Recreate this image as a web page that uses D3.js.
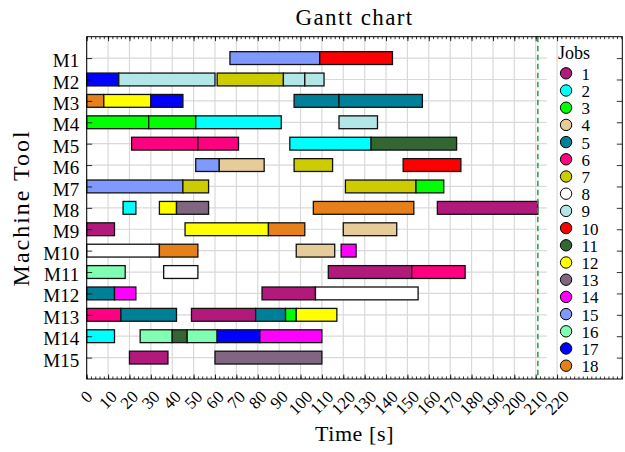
<!DOCTYPE html>
<html>
<head>
<meta charset="utf-8">
<script src="https://cdn.jsdelivr.net/npm/d3@7"></script>
<style>
body { margin: 0; background: #fff; }
text { font-family: "Liberation Serif", serif; fill: #000; }
</style>
</head>
<body>
<div id="chart"></div>
<script>
var svgWidth = 625;
var svgHeight = 452;

var margin = { top: 36.7, right: 2.7, bottom: 73, left: 86.7 };
var chartWidth = svgWidth - margin.left - margin.right;
var chartHeight = svgHeight - margin.top - margin.bottom;

// data: [job, start, end] per machine
var machines = ["M1", "M2", "M3", "M4", "M5", "M6", "M7", "M8", "M9", "M10", "M11", "M12", "M13", "M14", "M15"];
var jobs = [1, 2, 3, 4, 5, 6, 7, 8, 9, 10, 11, 12, 13, 14, 15, 16, 17, 18];
var jobColors = ["#b11a7b", "#00ffff", "#00ff00", "#e6cc99", "#007f99", "#ff0080", "#cccc00", "#ffffff", "#b3e6e6",
    "#ff0000", "#336633", "#ffff00", "#806680", "#ff00ff", "#8099ff", "#80ffb3", "#0000ff", "#e6801a"];

var m1 = [[15, 67, 109], [10, 109, 143]];
var m2 = [[17, 0, 15], [9, 15, 60], [7, 61, 92], [9, 92, 102], [9, 102, 111]];
var m3 = [[18, 0, 8], [12, 8, 30], [17, 30, 45], [5, 97, 118], [5, 118, 157]];
var m4 = [[3, 0, 29], [3, 29, 51], [2, 51, 91], [9, 118, 136]];
var m5 = [[6, 21, 52], [6, 52, 71], [2, 95, 133], [11, 133, 173]];
var m6 = [[15, 51, 62], [4, 62, 83], [7, 97, 115], [10, 148, 175]];
var m7 = [[15, 0, 45], [7, 45, 57], [7, 121, 154], [3, 154, 167]];
var m8 = [[2, 17, 23], [12, 34, 42], [13, 42, 57], [18, 106, 153], [1, 164, 211]];
var m9 = [[1, 0, 13], [12, 46, 85], [18, 85, 102], [4, 120, 145]];
var m10 = [[8, 0, 34], [18, 34, 52], [4, 98, 116], [14, 119, 126]];
var m11 = [[16, 0, 18], [8, 36, 52], [1, 113, 152], [6, 152, 177]];
var m12 = [[5, 0, 13], [14, 13, 23], [1, 82, 107], [8, 107, 155]];
var m13 = [[6, 0, 16], [5, 16, 42], [1, 49, 79], [5, 79, 93], [3, 93, 98], [12, 98, 117]];
var m14 = [[2, 0, 13], [16, 25, 40], [11, 40, 47], [16, 47, 61], [17, 61, 81], [14, 81, 110]];
var m15 = [[1, 20, 38], [13, 60, 110]];
var schedule = [m1, m2, m3, m4, m5, m6, m7, m8, m9, m10, m11, m12, m13, m14, m15];

var makespan = 211;
var xTicks = [0, 10, 20, 30, 40, 50, 60, 70, 80, 90, 100, 110, 120, 130, 140, 150, 160, 170, 180, 190, 200, 210, 220];

var ops = [];
schedule.forEach(function(list, i) {
    list.forEach(function(o) {
        ops.push({ machine: i + 1, job: o[0], start: o[1], end: o[2] });
    });
});

var svg = d3.select("#chart")
    .append("svg")
    .attr("width", svgWidth)
    .attr("height", svgHeight);

var chartGroup = svg.append("g")
    .attr("transform", `translate(${margin.left}, ${margin.top})`);

var xScale = d3.scaleLinear().domain([0, 250.5]).range([0, chartWidth]);
var yScale = d3.scaleLinear().domain([0, 16]).range([0, chartHeight]);
var color = d3.scaleOrdinal().domain(jobs).range(jobColors);

// legend sits over the right part, horizontal grid stops there
var legendLeft = xScale(215.3);

// GRID
chartGroup.append("g")
    .selectAll("line.vgrid")
    .data(xTicks)
    .enter()
    .append("line")
    .attr("x1", d => xScale(d))
    .attr("x2", d => xScale(d))
    .attr("y1", 0)
    .attr("y2", chartHeight)
    .attr("stroke", "#d9d9d9")
    .attr("stroke-width", 1.2);

chartGroup.append("g")
    .selectAll("line.hgrid")
    .data(d3.range(1, machines.length + 1))
    .enter()
    .append("line")
    .attr("x1", 0)
    .attr("x2", legendLeft)
    .attr("y1", d => yScale(d))
    .attr("y2", d => yScale(d))
    .attr("stroke", "#d9d9d9")
    .attr("stroke-width", 1.2);

// BARS
var barH = yScale(0.6) - yScale(0);
chartGroup.append("g")
    .selectAll("rect")
    .data(ops)
    .enter()
    .append("rect")
    .attr("x", d => xScale(d.start))
    .attr("y", d => yScale(d.machine) - barH / 2)
    .attr("width", d => xScale(d.end) - xScale(d.start))
    .attr("height", barH)
    .attr("fill", d => color(d.job))
    .attr("stroke", "#111")
    .attr("stroke-width", 1.3);

// makespan line
chartGroup.append("line")
    .attr("x1", xScale(makespan))
    .attr("x2", xScale(makespan))
    .attr("y1", 0)
    .attr("y2", chartHeight)
    .attr("stroke", "#22a045")
    .attr("stroke-width", 1.5)
    .attr("stroke-dasharray", "5.5,3.5");

// TICKS (inward, all four sides)
var minorTicks = d3.range(0, 251, 2);
function tickAxis(axis, tr) {
    var g = chartGroup.append("g").attr("transform", tr).call(axis);
    g.select(".domain").remove();
    g.selectAll("line").attr("stroke", "#000").attr("stroke-width", 0.8);
    return g;
}
tickAxis(d3.axisBottom(xScale).tickValues(xTicks).tickSize(-4.5).tickFormat(""), `translate(0, ${chartHeight})`);
tickAxis(d3.axisBottom(xScale).tickValues(minorTicks).tickSize(-2.5).tickFormat(""), `translate(0, ${chartHeight})`);
tickAxis(d3.axisTop(xScale).tickValues(xTicks).tickSize(-4.5).tickFormat(""), "translate(0, 0)");
tickAxis(d3.axisTop(xScale).tickValues(minorTicks).tickSize(-2.5).tickFormat(""), "translate(0, 0)");
tickAxis(d3.axisRight(yScale).tickValues(d3.range(1, 16)).tickSize(-5.5).tickFormat(""), `translate(${chartWidth}, 0)`);

var leftAxis = tickAxis(d3.axisLeft(yScale)
    .tickValues(d3.range(1, 16))
    .tickSize(-5.5)
    .tickPadding(7.5)
    .tickFormat(d => machines[d - 1]), "translate(0, 0)");
leftAxis.selectAll("text")
    .attr("font-family", "Liberation Serif, serif")
    .attr("font-size", 19)
    .attr("dy", "0.45em");

// rotated x tick labels
var xLabelTop = chartHeight + 11;
var xFont = 17;
var xl = chartGroup.append("g")
    .selectAll("text")
    .data(xTicks)
    .enter()
    .append("text")
    .attr("font-size", xFont)
    .attr("text-anchor", "middle")
    .attr("dominant-baseline", "central")
    .text(d => d);
xl.attr("transform", function(d) {
    var w = this.getComputedTextLength();
    var s = (w + xFont * 0.66) * 0.7071;
    return `translate(${xScale(d)}, ${xLabelTop + s / 2}) rotate(-45)`;
});

// frame
chartGroup.append("rect")
    .attr("width", chartWidth)
    .attr("height", chartHeight)
    .attr("fill", "none")
    .attr("stroke", "#000")
    .attr("stroke-width", 1);

// LEGEND
var legend = chartGroup.append("g")
    .attr("transform", `translate(${xScale(224.2)}, 0)`);
legend.append("text")
    .attr("x", 8)
    .attr("y", 22)
    .attr("text-anchor", "middle")
    .attr("font-size", 18)
    .text("Jobs");
var items = legend.selectAll("g.item")
    .data(jobs)
    .enter()
    .append("g")
    .attr("transform", (d, i) => `translate(0, ${36.6 + i * 17.2})`);
items.append("circle")
    .attr("r", 5.7)
    .attr("fill", d => color(d))
    .attr("stroke", "#000")
    .attr("stroke-width", 1);
items.append("text")
    .attr("x", 15.5)
    .attr("y", 6.5)
    .attr("font-size", 17)
    .text(d => d);

// TITLES
svg.append("text")
    .attr("x", margin.left + chartWidth / 2)
    .attr("y", 25)
    .attr("text-anchor", "middle")
    .attr("font-size", 23)
    .attr("letter-spacing", 1.4)
    .text("Gantt chart");

svg.append("text")
    .attr("x", margin.left + chartWidth / 2)
    .attr("y", 441)
    .attr("text-anchor", "middle")
    .attr("font-size", 22)
    .attr("letter-spacing", 0.6)
    .text("Time [s]");

svg.append("text")
    .attr("transform", `translate(29, ${margin.top + chartHeight / 2}) rotate(-90)`)
    .attr("text-anchor", "middle")
    .attr("font-size", 24)
    .attr("letter-spacing", 2)
    .text("Machine Tool");
</script>
</body>
</html>
